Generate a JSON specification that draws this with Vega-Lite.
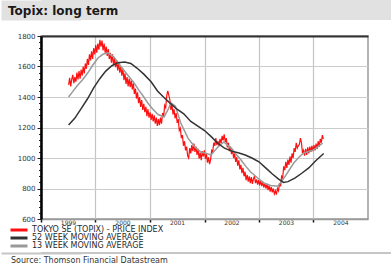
{
  "$schema": "https://vega.github.io/schema/vega-lite/v6.json",
  "padding": 0,
  "background": "#ffffff",
  "columns": 1,
  "spacing": 1,
  "align": "none",
  "bounds": "full",
  "resolve": {"scale": {"color": "independent"}, "legend": {"color": "independent"}},
  "config": {
    "view": {"stroke": null},
    "font": "DejaVu Sans",
    "axis": {"labelFont": "DejaVu Sans", "titleFont": "DejaVu Sans"}
  },
  "datasets": {
    "topix": [
      {"d":"1999-07-05","v":1480},{"d":"1999-07-12","v":1525},{"d":"1999-07-19","v":1470},{"d":"1999-07-26","v":1515},{"d":"1999-08-02","v":1545},{"d":"1999-08-09","v":1490},{"d":"1999-08-16","v":1530},{"d":"1999-08-23","v":1500},{"d":"1999-08-30","v":1560},{"d":"1999-09-06","v":1515},{"d":"1999-09-13","v":1570},{"d":"1999-09-20","v":1520},{"d":"1999-09-27","v":1580},{"d":"1999-10-04","v":1540},{"d":"1999-10-11","v":1600},{"d":"1999-10-18","v":1555},{"d":"1999-10-25","v":1620},{"d":"1999-11-01","v":1585},{"d":"1999-11-08","v":1650},{"d":"1999-11-15","v":1610},{"d":"1999-11-22","v":1680},{"d":"1999-11-29","v":1640},{"d":"1999-12-06","v":1700},{"d":"1999-12-13","v":1650},{"d":"1999-12-20","v":1720},{"d":"1999-12-27","v":1680},
      {"d":"2000-01-03","v":1740},{"d":"2000-01-10","v":1690},{"d":"2000-01-17","v":1750},{"d":"2000-01-24","v":1710},{"d":"2000-01-31","v":1775},{"d":"2000-02-07","v":1730},{"d":"2000-02-14","v":1770},{"d":"2000-02-21","v":1705},{"d":"2000-02-28","v":1750},{"d":"2000-03-06","v":1690},{"d":"2000-03-13","v":1730},{"d":"2000-03-20","v":1670},{"d":"2000-03-27","v":1715},{"d":"2000-04-03","v":1650},{"d":"2000-04-10","v":1690},{"d":"2000-04-17","v":1625},{"d":"2000-04-24","v":1680},{"d":"2000-05-01","v":1610},{"d":"2000-05-08","v":1655},{"d":"2000-05-15","v":1595},{"d":"2000-05-22","v":1640},{"d":"2000-05-29","v":1575},{"d":"2000-06-05","v":1625},{"d":"2000-06-12","v":1560},{"d":"2000-06-19","v":1600},{"d":"2000-06-26","v":1540},{"d":"2000-07-03","v":1585},{"d":"2000-07-10","v":1510},{"d":"2000-07-17","v":1555},{"d":"2000-07-24","v":1485},{"d":"2000-07-31","v":1530},{"d":"2000-08-07","v":1470},{"d":"2000-08-14","v":1520},{"d":"2000-08-21","v":1465},{"d":"2000-08-28","v":1510},{"d":"2000-09-04","v":1450},{"d":"2000-09-11","v":1490},{"d":"2000-09-18","v":1420},{"d":"2000-09-25","v":1455},{"d":"2000-10-02","v":1390},{"d":"2000-10-09","v":1430},{"d":"2000-10-16","v":1360},{"d":"2000-10-23","v":1400},{"d":"2000-10-30","v":1335},{"d":"2000-11-06","v":1380},{"d":"2000-11-13","v":1315},{"d":"2000-11-20","v":1355},{"d":"2000-11-27","v":1300},{"d":"2000-12-04","v":1335},{"d":"2000-12-11","v":1275},{"d":"2000-12-18","v":1320},{"d":"2000-12-25","v":1265},
      {"d":"2001-01-01","v":1300},{"d":"2001-01-08","v":1250},{"d":"2001-01-15","v":1290},{"d":"2001-01-22","v":1240},{"d":"2001-01-29","v":1280},{"d":"2001-02-05","v":1225},{"d":"2001-02-12","v":1265},{"d":"2001-02-19","v":1210},{"d":"2001-02-26","v":1255},{"d":"2001-03-05","v":1215},{"d":"2001-03-12","v":1265},{"d":"2001-03-19","v":1225},{"d":"2001-03-26","v":1295},{"d":"2001-04-02","v":1270},{"d":"2001-04-09","v":1345},{"d":"2001-04-16","v":1330},{"d":"2001-04-23","v":1410},{"d":"2001-04-30","v":1440},{"d":"2001-05-07","v":1410},{"d":"2001-05-14","v":1380},{"d":"2001-05-21","v":1315},{"d":"2001-05-28","v":1350},{"d":"2001-06-04","v":1285},{"d":"2001-06-11","v":1320},{"d":"2001-06-18","v":1260},{"d":"2001-06-25","v":1295},{"d":"2001-07-02","v":1230},{"d":"2001-07-09","v":1255},{"d":"2001-07-16","v":1180},{"d":"2001-07-23","v":1195},{"d":"2001-07-30","v":1130},{"d":"2001-08-06","v":1150},{"d":"2001-08-13","v":1080},{"d":"2001-08-20","v":1110},{"d":"2001-08-27","v":1050},{"d":"2001-09-03","v":1075},{"d":"2001-09-10","v":1015},{"d":"2001-09-17","v":1000},{"d":"2001-09-24","v":1065},{"d":"2001-10-01","v":1030},{"d":"2001-10-08","v":1085},{"d":"2001-10-15","v":1045},{"d":"2001-10-22","v":1095},{"d":"2001-10-29","v":1040},{"d":"2001-11-05","v":1075},{"d":"2001-11-12","v":1020},{"d":"2001-11-19","v":1060},{"d":"2001-11-26","v":995},{"d":"2001-12-03","v":1035},{"d":"2001-12-10","v":985},{"d":"2001-12-17","v":1045},{"d":"2001-12-24","v":1010},{"d":"2001-12-31","v":1050},
      {"d":"2002-01-07","v":995},{"d":"2002-01-14","v":1025},{"d":"2002-01-21","v":970},{"d":"2002-01-28","v":1005},{"d":"2002-02-04","v":960},{"d":"2002-02-11","v":990},{"d":"2002-02-18","v":1050},{"d":"2002-02-25","v":1040},{"d":"2002-03-04","v":1100},{"d":"2002-03-11","v":1080},{"d":"2002-03-18","v":1130},{"d":"2002-03-25","v":1085},{"d":"2002-04-01","v":1110},{"d":"2002-04-08","v":1080},{"d":"2002-04-15","v":1125},{"d":"2002-04-22","v":1095},{"d":"2002-04-29","v":1145},{"d":"2002-05-06","v":1115},{"d":"2002-05-13","v":1155},{"d":"2002-05-20","v":1105},{"d":"2002-05-27","v":1130},{"d":"2002-06-03","v":1070},{"d":"2002-06-10","v":1100},{"d":"2002-06-17","v":1045},{"d":"2002-06-24","v":1075},{"d":"2002-07-01","v":1025},{"d":"2002-07-08","v":1060},{"d":"2002-07-15","v":1000},{"d":"2002-07-22","v":1030},{"d":"2002-07-29","v":975},{"d":"2002-08-05","v":1005},{"d":"2002-08-12","v":950},{"d":"2002-08-19","v":985},{"d":"2002-08-26","v":925},{"d":"2002-09-02","v":955},{"d":"2002-09-09","v":900},{"d":"2002-09-16","v":935},{"d":"2002-09-23","v":880},{"d":"2002-09-30","v":910},{"d":"2002-10-07","v":855},{"d":"2002-10-14","v":890},{"d":"2002-10-21","v":845},{"d":"2002-10-28","v":880},{"d":"2002-11-04","v":835},{"d":"2002-11-11","v":875},{"d":"2002-11-18","v":830},{"d":"2002-11-25","v":865},{"d":"2002-12-02","v":880},{"d":"2002-12-09","v":835},{"d":"2002-12-16","v":860},{"d":"2002-12-23","v":825},{"d":"2002-12-30","v":855},
      {"d":"2003-01-06","v":820},{"d":"2003-01-13","v":850},{"d":"2003-01-20","v":815},{"d":"2003-01-27","v":845},{"d":"2003-02-03","v":805},{"d":"2003-02-10","v":835},{"d":"2003-02-17","v":800},{"d":"2003-02-24","v":830},{"d":"2003-03-03","v":790},{"d":"2003-03-10","v":820},{"d":"2003-03-17","v":780},{"d":"2003-03-24","v":810},{"d":"2003-03-31","v":775},{"d":"2003-04-07","v":800},{"d":"2003-04-14","v":765},{"d":"2003-04-21","v":785},{"d":"2003-04-28","v":760},{"d":"2003-05-05","v":800},{"d":"2003-05-12","v":785},{"d":"2003-05-19","v":835},{"d":"2003-05-26","v":815},{"d":"2003-06-02","v":880},{"d":"2003-06-09","v":870},{"d":"2003-06-16","v":945},{"d":"2003-06-23","v":920},{"d":"2003-06-30","v":975},{"d":"2003-07-07","v":935},{"d":"2003-07-14","v":990},{"d":"2003-07-21","v":955},{"d":"2003-07-28","v":1010},{"d":"2003-08-04","v":970},{"d":"2003-08-11","v":1030},{"d":"2003-08-18","v":1000},{"d":"2003-08-25","v":1065},{"d":"2003-09-01","v":1040},{"d":"2003-09-08","v":1100},{"d":"2003-09-15","v":1065},{"d":"2003-09-22","v":1080},{"d":"2003-09-29","v":1090},{"d":"2003-10-06","v":1130},{"d":"2003-10-13","v":1100},{"d":"2003-10-20","v":1030},{"d":"2003-10-27","v":1050},{"d":"2003-11-03","v":1015},{"d":"2003-11-10","v":1060},{"d":"2003-11-17","v":1020},{"d":"2003-11-24","v":1070},{"d":"2003-12-01","v":1030},{"d":"2003-12-08","v":1075},{"d":"2003-12-15","v":1040},{"d":"2003-12-22","v":1080},{"d":"2003-12-29","v":1045},
      {"d":"2004-01-05","v":1085},{"d":"2004-01-12","v":1050},{"d":"2004-01-19","v":1095},{"d":"2004-01-26","v":1060},{"d":"2004-02-02","v":1110},{"d":"2004-02-09","v":1075},{"d":"2004-02-16","v":1125},{"d":"2004-02-23","v":1100},{"d":"2004-03-01","v":1150},{"d":"2004-03-08","v":1125}
    ],
    "ma52": [
      {"d":"1999-07-05","v":1216},{"d":"1999-08-15","v":1260},{"d":"1999-09-25","v":1320},{"d":"1999-11-10","v":1390},{"d":"1999-12-20","v":1460},{"d":"2000-01-30","v":1520},{"d":"2000-03-10","v":1570},{"d":"2000-04-20","v":1605},{"d":"2000-06-01","v":1625},{"d":"2000-07-15","v":1630},{"d":"2000-08-25","v":1620},{"d":"2000-10-05","v":1590},{"d":"2000-11-20","v":1550},{"d":"2001-01-08","v":1500},{"d":"2001-02-20","v":1440},{"d":"2001-04-01","v":1400},{"d":"2001-05-15","v":1360},{"d":"2001-07-01","v":1320},{"d":"2001-08-15","v":1290},{"d":"2001-10-01","v":1240},{"d":"2001-11-15","v":1210},{"d":"2002-01-01","v":1180},{"d":"2002-02-15","v":1140},{"d":"2002-04-01","v":1095},{"d":"2002-05-15","v":1065},{"d":"2002-07-01","v":1045},{"d":"2002-08-15","v":1035},{"d":"2002-10-01","v":1020},{"d":"2002-11-15","v":1000},{"d":"2003-01-01","v":975},{"d":"2003-02-15","v":935},{"d":"2003-04-01","v":895},{"d":"2003-05-15","v":860},{"d":"2003-06-15","v":840},{"d":"2003-07-15","v":845},{"d":"2003-09-01","v":870},{"d":"2003-10-15","v":900},{"d":"2003-12-01","v":935},{"d":"2004-01-15","v":980},{"d":"2004-03-10","v":1030}
    ],
    "ma13": [
      {"d":"1999-07-05","v":1400},{"d":"1999-08-05","v":1440},{"d":"1999-09-05","v":1479},{"d":"1999-10-08","v":1515},{"d":"1999-11-10","v":1557},{"d":"1999-12-15","v":1610},{"d":"2000-01-18","v":1656},{"d":"2000-02-20","v":1680},{"d":"2000-03-25","v":1690},{"d":"2000-05-04","v":1662},{"d":"2000-06-05","v":1620},{"d":"2000-07-08","v":1577},{"d":"2000-08-12","v":1535},{"d":"2000-09-16","v":1492},{"d":"2000-10-18","v":1445},{"d":"2000-11-20","v":1400},{"d":"2000-12-17","v":1361},{"d":"2001-01-20","v":1320},{"d":"2001-02-24","v":1285},{"d":"2001-04-05","v":1269},{"d":"2001-04-28","v":1310},{"d":"2001-05-22","v":1361},{"d":"2001-06-20","v":1340},{"d":"2001-07-26","v":1229},{"d":"2001-09-12","v":1130},{"d":"2001-10-30","v":1070},{"d":"2001-12-08","v":1039},{"d":"2002-01-15","v":1030},{"d":"2002-02-14","v":1020},{"d":"2002-04-01","v":1072},{"d":"2002-05-11","v":1105},{"d":"2002-06-28","v":1065},{"d":"2002-08-05","v":1020},{"d":"2002-09-03","v":987},{"d":"2002-10-05","v":945},{"d":"2002-11-07","v":908},{"d":"2002-12-24","v":869},{"d":"2003-02-03","v":836},{"d":"2003-03-20","v":820},{"d":"2003-05-08","v":815},{"d":"2003-06-19","v":870},{"d":"2003-08-22","v":967},{"d":"2003-10-01","v":1010},{"d":"2003-10-29","v":1033},{"d":"2004-01-01","v":1052},{"d":"2004-03-03","v":1098}
    ]
  },
  "concat": [
    {
      "width": 351,
      "height": 20,
      "view": {"fill": "#e1e1e1", "stroke": null},
      "title": {"text": "Topix: long term", "anchor": "start", "frame": "group", "orient": "top", "offset": -18, "dx": -33, "fontSize": 12, "fontWeight": "bold", "font": "DejaVu Sans", "color": "#1a1a1a"},
      "data": {"values": [{"k": 1}]},
      "mark": {"type": "point", "opacity": 0, "size": 0},
      "encoding": {
        "y": {"datum": 0, "type": "quantitative", "scale": {"domain": [-1, 1]}, "axis": {"domain": true, "domainColor": "#e1e1e1", "domainWidth": 80, "domainCap": "butt", "ticks": false, "labels": false, "grid": false, "title": null}}
      }
    },
    {
      "width": 327,
      "height": 183,
      "view": {"stroke": "#9a9a9a", "strokeWidth": 1.5},
      "resolve": {"axis": {"x": "independent"}},
      "layer": [
        {
          "data": {"name": "topix"},
          "mark": {"type": "line", "strokeWidth": 1.2},
          "encoding": {
            "x": {
              "field": "d", "type": "temporal",
              "scale": {"type": "utc", "domain": [{"year": 1999, "month": 1, "date": 1, "utc": true}, {"year": 2005, "month": 1, "date": 1, "utc": true}]},
              "axis": {
                "values": [{"year": 1999, "month": 1, "date": 1, "utc": true}, {"year": 2000, "month": 1, "date": 1, "utc": true}, {"year": 2001, "month": 1, "date": 1, "utc": true}, {"year": 2002, "month": 1, "date": 1, "utc": true}, {"year": 2003, "month": 1, "date": 1, "utc": true}, {"year": 2004, "month": 1, "date": 1, "utc": true}],
                "tickCount": 100,
                "labelExpr": "utcFormat(datum.value, '%Y')",
                "labelOffset": 27, "labelAlign": "center", "labelFontSize": 6, "labelColor": "#333333", "labelPadding": -3,
                "labelFlush": false, "labelOverlap": false,
                "grid": true, "gridColor": "#c4c4c4", "gridWidth": 1.2,
                "tickSize": 3, "tickColor": "#111111", "tickWidth": 1.5,
                "domainColor": "#9a9a9a", "domainWidth": 1.5,
                "title": null
              }
            },
            "y": {
              "field": "v", "type": "quantitative",
              "scale": {"domain": [600, 1800], "nice": false, "zero": false},
              "axis": {
                "values": [600,640,680,720,760,800,840,880,920,960,1000,1040,1080,1120,1160,1200,1240,1280,1320,1360,1400,1440,1480,1520,1560,1600,1640,1680,1720,1760,1800],
                "tickCount": 100,
                "format": "d",
                "labelExpr": "datum.value % 200 === 0 ? datum.label : ''",
                "labelFontSize": 7, "labelColor": "#333333", "labelPadding": 2,
                "labelFlush": false, "labelOverlap": false,
                "grid": true,
                "gridColor": {"condition": {"test": "datum.value % 200 === 0", "value": "#cccccc"}, "value": "rgba(0,0,0,0)"},
                "gridWidth": 1,
                "tickSize": {"condition": {"test": "datum.value % 200 === 0", "value": 4}, "value": 2.5},
                "tickColor": "#222222", "tickWidth": 1,
                "domainColor": "#000000", "domainWidth": 2.5,
                "title": "\u00a0", "titleX": -40, "titleY": -14, "titleAngle": 0, "titleAlign": "left", "titleBaseline": "top", "titleFontSize": 2
              }
            },
            "color": {
              "datum": "TOKYO SE (TOPIX) - PRICE INDEX", "type": "nominal",
              "scale": {"domain": ["TOKYO SE (TOPIX) - PRICE INDEX", "52 WEEK MOVING AVERAGE", "13 WEEK MOVING AVERAGE"], "range": ["#ff1010", "#333333", "#9a9a9a"]},
              "legend": {
                "orient": "none", "legendX": -32, "legendY": 191, "title": null, "direction": "vertical",
                "labelFont": "DejaVu Sans", "labelFontSize": 8, "labelColor": "#2a2a2a", "labelOffset": 3, "labelLimit": 400,
                "symbolType": "stroke", "symbolSize": 289, "symbolStrokeWidth": 3, "clipHeight": 6, "rowPadding": 0, "padding": 0
              }
            }
          }
        },
        {
          "data": {"name": "ma13"},
          "mark": {"type": "line", "strokeWidth": 1.5},
          "encoding": {
            "x": {"field": "d", "type": "temporal", "axis": {"orient": "top", "labels": false, "ticks": false, "grid": false, "domainColor": "#333333", "domainWidth": 2, "title": null}},
            "y": {"field": "v", "type": "quantitative"},
            "color": {"datum": "13 WEEK MOVING AVERAGE", "type": "nominal"}
          }
        },
        {
          "data": {"name": "ma52"},
          "mark": {"type": "line", "strokeWidth": 1.5},
          "encoding": {
            "x": {"field": "d", "type": "temporal", "axis": null},
            "y": {"field": "v", "type": "quantitative"},
            "color": {"datum": "52 WEEK MOVING AVERAGE", "type": "nominal"}
          }
        }
      ]
    },
    {
      "width": 351,
      "height": 2,
      "view": {"fill": "#c6c6c6", "stroke": null},
      "title": {"text": "Source: Thomson Financial Datastream", "orient": "bottom", "anchor": "start", "frame": "group", "offset": 3, "dx": -30, "fontSize": 8, "fontWeight": "normal", "font": "DejaVu Sans", "color": "#333333"},
      "data": {"values": [{"k": 1}]},
      "mark": {"type": "point", "opacity": 0, "size": 0},
      "encoding": {
        "y": {"datum": 0, "type": "quantitative", "scale": {"domain": [-1, 1]}, "axis": {"domain": true, "domainColor": "#c6c6c6", "domainWidth": 80, "domainCap": "butt", "ticks": false, "labels": false, "grid": false, "title": null}}
      }
    }
  ]
}
